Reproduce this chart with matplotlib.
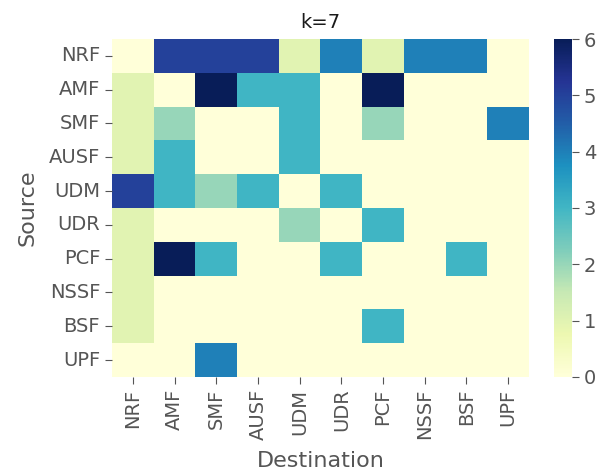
import matplotlib
matplotlib.use("Agg")
import matplotlib.pyplot as plt
import seaborn as sns
import numpy as np

labels = ["NRF", "AMF", "SMF", "AUSF", "UDM", "UDR", "PCF", "NSSF", "BSF", "UPF"]
values = [
    [0, 5, 5, 5, 1, 4, 1, 4, 4, 0],
    [1, 0, 6, 3, 3, 0, 6, 0, 0, 0],
    [1, 2, 0, 0, 3, 0, 2, 0, 0, 4],
    [1, 3, 0, 0, 3, 0, 0, 0, 0, 0],
    [5, 3, 2, 3, 0, 3, 0, 0, 0, 0],
    [1, 0, 0, 0, 2, 0, 3, 0, 0, 0],
    [1, 6, 3, 0, 0, 3, 0, 0, 3, 0],
    [1, 0, 0, 0, 0, 0, 0, 0, 0, 0],
    [1, 0, 0, 0, 0, 0, 3, 0, 0, 0],
    [0, 0, 4, 0, 0, 0, 0, 0, 0, 0],
]

tc = "#555555"
plt.rcParams.update({
    "font.family": ["DejaVu Sans"],
    "font.size": 14,
    "text.color": tc,
    "axes.labelcolor": tc,
    "xtick.color": tc,
    "ytick.color": tc,
    "xtick.major.size": 5,
    "ytick.major.size": 5,
})

fig = plt.figure(figsize=(6.07, 4.70), dpi=100)
ax = fig.add_axes([0.1845, 0.198, 0.687, 0.719])
cax = fig.add_axes([0.9127, 0.198, 0.0297, 0.719])
sns.heatmap(np.array(values), ax=ax, cbar_ax=cax, cmap="YlGnBu", vmin=0, vmax=6,
            xticklabels=labels, yticklabels=labels)
ax.set_title("k=7", fontsize=14, color="#1a1a1a", pad=8)
ax.set_xlabel("Destination", fontsize=16, labelpad=8)
ax.set_ylabel("Source", fontsize=16, labelpad=8)
ax.tick_params(axis="x", rotation=90, labelsize=14)
ax.tick_params(axis="y", rotation=0, labelsize=14)
cax.tick_params(labelsize=14)
cax.set_yticks([0, 1, 2, 3, 4, 5, 6])
fig.savefig("out.png", dpi=100)
